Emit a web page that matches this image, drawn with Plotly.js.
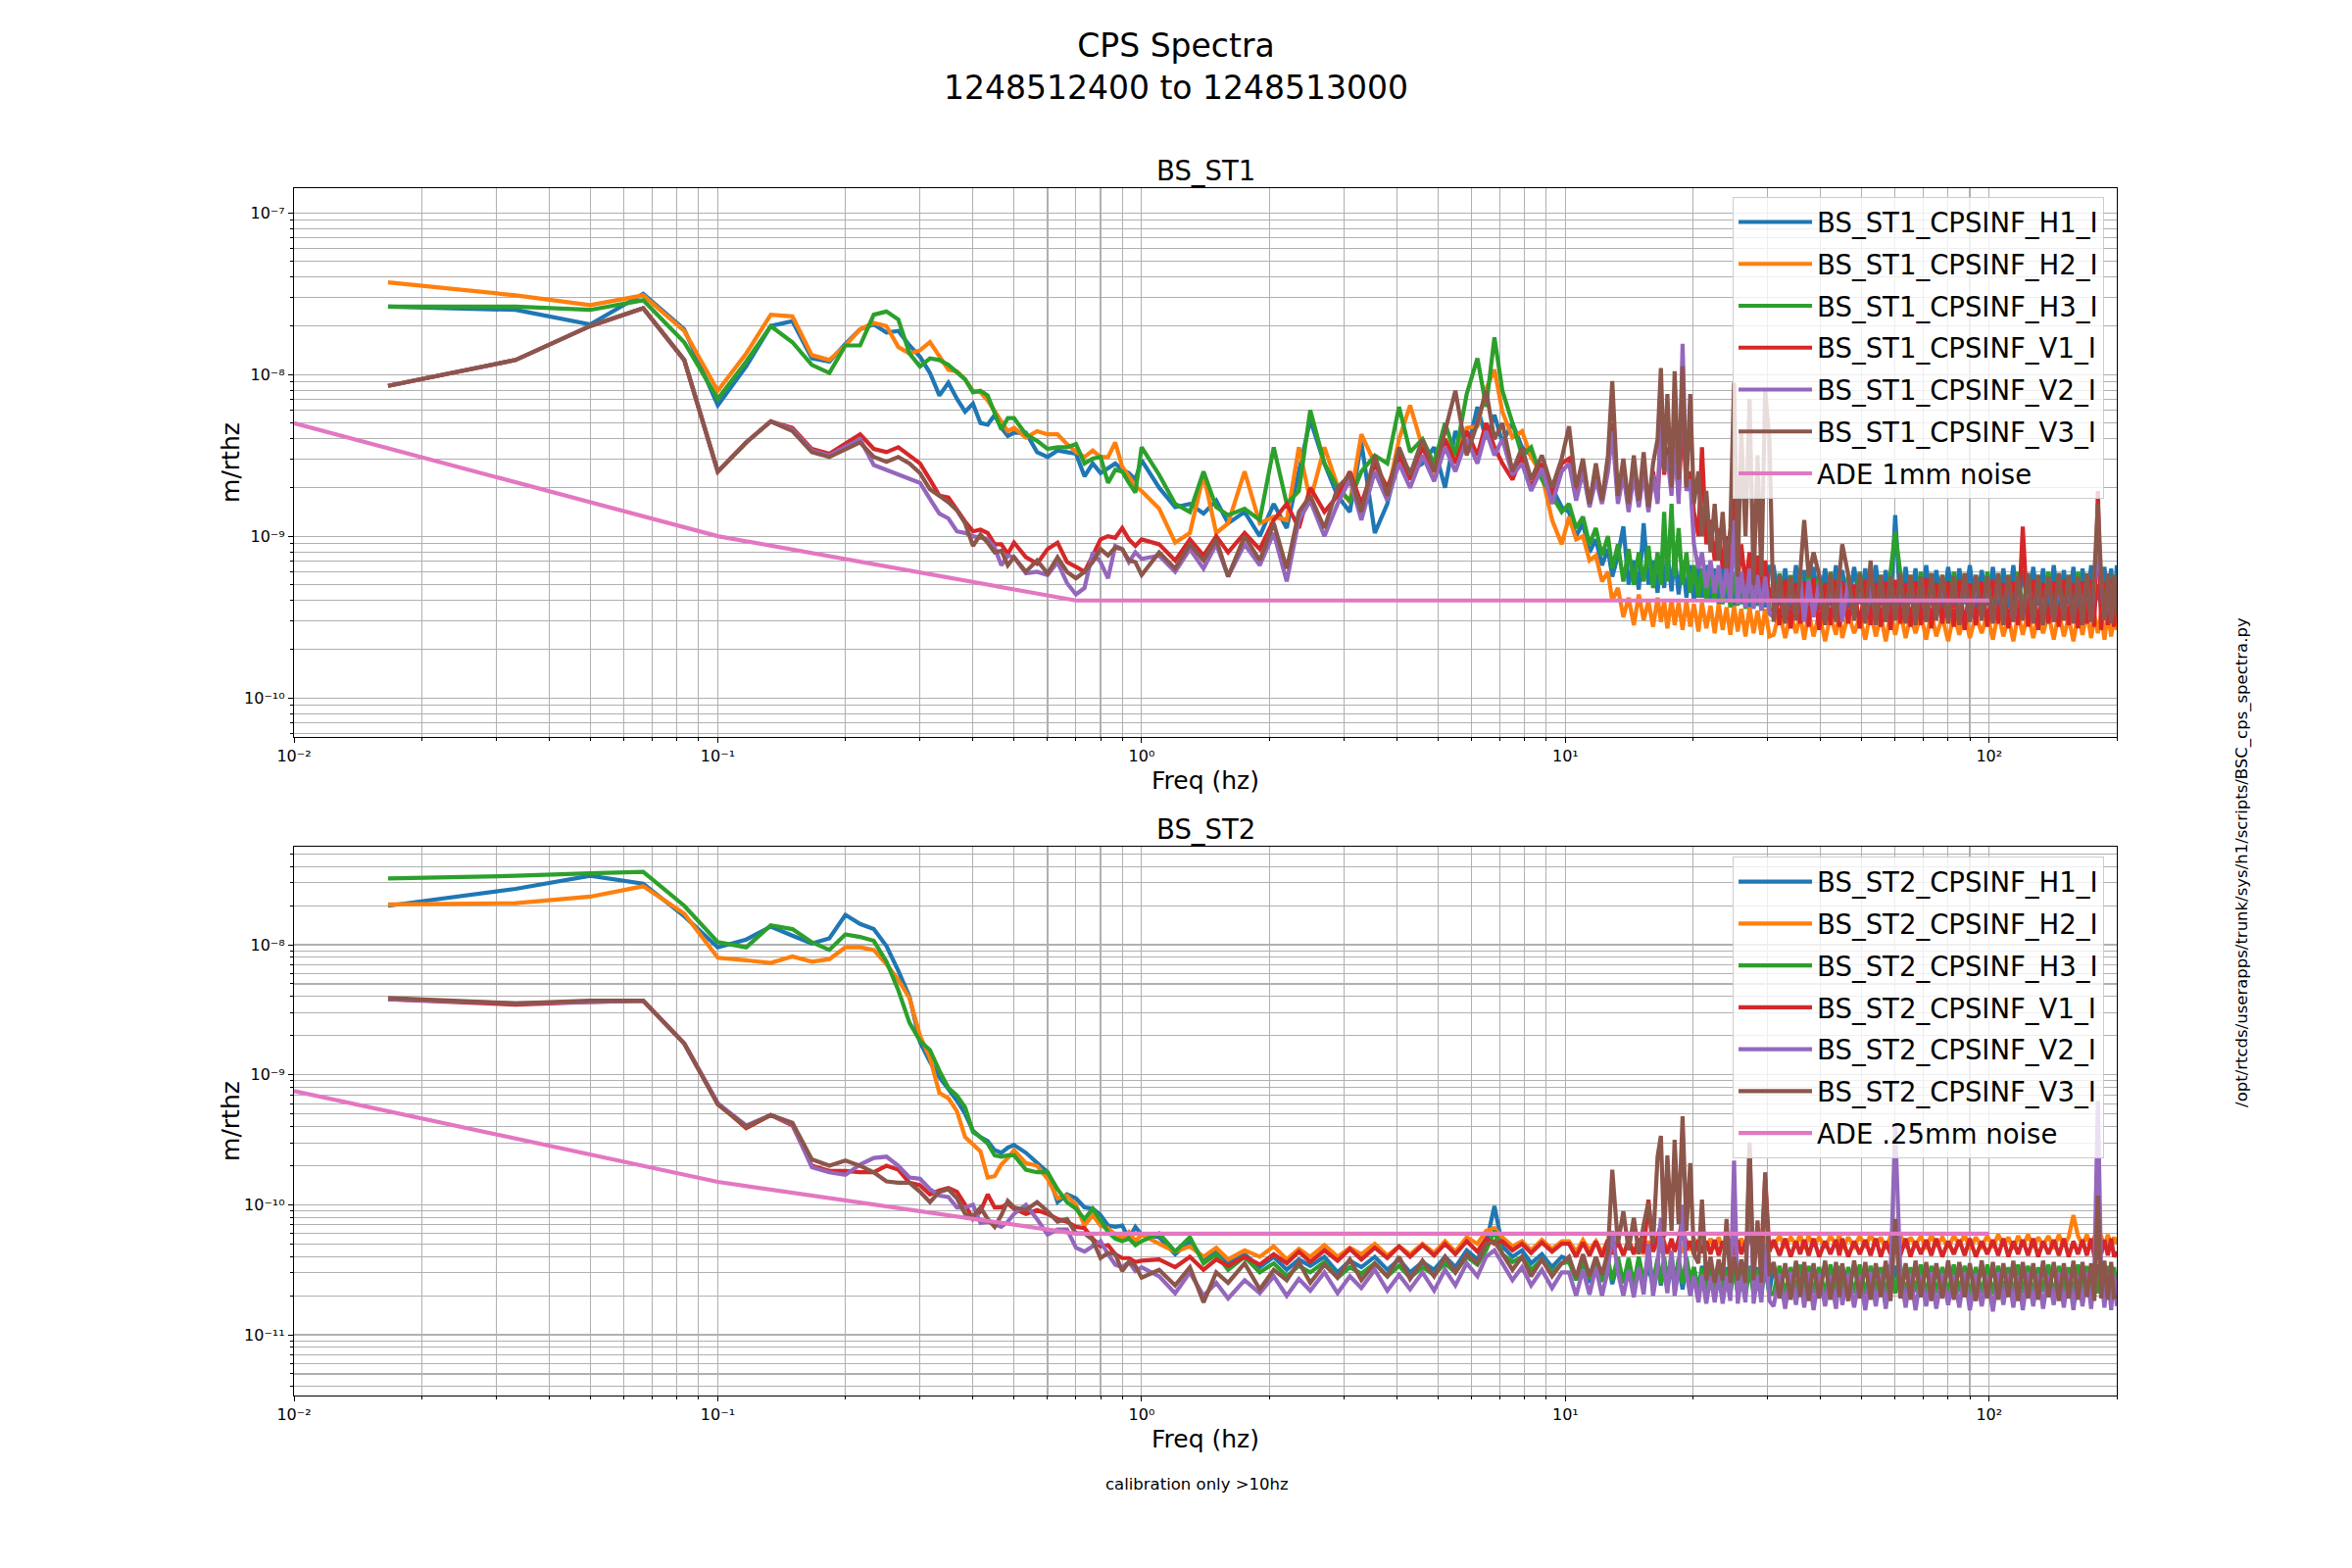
<!DOCTYPE html>
<html>
<head>
<meta charset="utf-8">
<script src="https://cdn.plot.ly/plotly-3.0.1.min.js"></script>
<style>html,body{margin:0;padding:0;background:#fff;}#chart{width:2400px;height:1600px;}</style>
</head>
<body>
<div id="chart"></div>
<script>
// ---------- DATA (amplitudes given as log10(m/rthz)) ----------
// frequency grid, part A1: 1/60 Hz bins up to 0.5 Hz, then coarser up to 9.8 Hz
const freqA1 = [
  0.01667, 0.03333, 0.05, 0.06667, 0.08333, 0.1, 0.11667, 0.13333, 0.15, 0.16667, 0.18333,
  0.2, 0.21667, 0.23333, 0.25, 0.26667, 0.28333, 0.3, 0.31667, 0.33333, 0.35, 0.36667, 0.38333, 0.4, 0.41667, 0.43333, 0.45, 0.46667, 0.48333, 0.5,
  0.53333, 0.56667, 0.6, 0.63333, 0.66667, 0.7, 0.73333, 0.76667, 0.8, 0.83333, 0.86667, 0.9, 0.93333, 0.96667, 1.0,
  1.1, 1.2, 1.3, 1.4, 1.5, 1.6, 1.75, 1.9, 2.05, 2.2, 2.35, 2.5, 2.7, 2.9, 3.1, 3.3, 3.55, 3.8, 4.05, 4.3,
  4.6, 4.9, 5.2, 5.5, 5.85, 6.2, 6.5, 6.8, 7.1, 7.5, 7.9, 8.3, 8.8, 9.3, 9.8
];
// part A2: 10 Hz to 30 Hz
const freqA2 = [
  10.2, 10.6, 11.0, 11.4, 11.8, 12.2, 12.6, 12.9, 13.3, 13.7,
  14.1, 14.5, 14.9, 15.3, 15.7, 16.1, 16.5, 16.8, 17.1, 17.4,
  17.8, 18.1, 18.5, 18.9, 19.3, 19.7, 20.1, 20.6, 21.0, 21.5,
  22.0, 22.5, 23.0, 23.5, 24.0, 24.5, 25.0, 25.5, 26.0, 26.6,
  27.2, 27.8, 28.4, 29.0, 29.6, 30.3
];
// part B: 31 Hz to 200 Hz
const freqB = [
  31, 32, 33, 34, 35, 35.8, 36.6, 37.5, 38.5, 39.7,
  41, 42.2, 43.5, 44.3, 45, 46.5, 48, 49.5, 51, 52.5,
  54, 55.5, 57, 58.5, 60, 61.7, 63.5, 65.2, 67, 69,
  71, 73, 75, 77.5, 80, 82.5, 85, 87.5, 90, 93,
  96, 99, 102, 105, 108, 111, 114, 117, 120, 123.5,
  127, 130.5, 134, 138, 142, 146, 150, 154, 158, 162,
  166, 170, 174, 177, 180.5, 183.7, 187, 190.5, 194, 197,
  200
];

// ---- BS_ST1 (top panel) ----
const st1_H1_a1 = [
  -7.58, -7.60, -7.69, -7.50, -7.72, -8.19, -7.95, -7.70, -7.67, -7.90, -7.92,
  -7.81, -7.72, -7.69, -7.74, -7.73, -7.82, -7.89, -7.99, -8.13, -8.05, -8.15, -8.23, -8.18, -8.30, -8.31, -8.25, -8.33, -8.38, -8.36,
  -8.36, -8.48, -8.51, -8.47, -8.48, -8.49, -8.63, -8.55, -8.61, -8.58, -8.55, -8.59, -8.61, -8.65, -8.53,
  -8.70, -8.82, -8.80, -8.86, -8.78, -8.92, -8.85, -9.00, -8.80, -8.95, -8.60, -8.28, -8.55, -8.75, -8.85, -8.42, -8.98, -8.80, -8.50, -8.60,
  -8.55, -8.45, -8.70, -8.35, -8.48, -8.20, -8.40, -8.25, -8.42, -8.30, -8.45, -8.50, -8.62, -8.70, -8.82
];
const st1_H1_a2 = [
  -8.85, -9.00, -8.92, -9.10, -9.02, -9.18, -9.08, -9.25, -9.12, -8.94,
  -9.30, -9.15, -9.33, -8.92, -9.30, -9.15, -9.35, -9.12, -9.32, -9.10,
  -9.34, -9.12, -9.36, -9.15, -9.38, -9.18, -9.40, -9.17, -9.38, -9.18,
  -9.40, -9.20, -9.42, -9.19, -9.41, -9.20, -9.43, -9.19, -9.42, -9.20,
  -9.44, -9.19, -9.43, -9.20, -9.44, -9.19
];
const st1_H1_b = [
  -9.19, -9.43, -9.20, -9.45, -9.18, -9.44, -9.21, -9.42, -9.19, -9.46,
  -9.20, -9.43, -9.18, -9.45, -9.21, -9.44, -9.19, -9.42, -9.20, -9.46,
  -9.18, -9.43, -9.21, -9.45, -8.87, -9.44, -9.19, -9.42, -9.20, -9.46,
  -9.18, -9.43, -9.21, -9.45, -9.19, -9.44, -9.20, -9.42, -9.18, -9.46,
  -9.21, -9.43, -9.19, -9.45, -9.20, -9.44, -9.18, -9.42, -9.21, -9.46,
  -9.19, -9.43, -9.20, -9.45, -9.18, -9.44, -9.21, -9.42, -9.19, -9.46,
  -9.20, -9.43, -9.18, -9.45, -9.30, -9.44, -9.19, -9.42, -9.20, -9.46,
  -9.18
];
const st1_H2_a1 = [
  -7.43, -7.51, -7.57, -7.51, -7.73, -8.10, -7.87, -7.63, -7.64, -7.88, -7.91,
  -7.82, -7.72, -7.68, -7.70, -7.83, -7.87, -7.85, -7.80, -7.89, -7.97, -7.98, -8.03, -8.10, -8.11, -8.16, -8.23, -8.29, -8.35, -8.33,
  -8.39, -8.35, -8.37, -8.37, -8.43, -8.48, -8.51, -8.47, -8.51, -8.51, -8.42, -8.57, -8.63, -8.69, -8.72,
  -8.83, -9.04, -8.98, -8.62, -8.98, -8.92, -8.60, -8.92, -8.88, -8.90, -8.45, -8.78, -8.45, -8.69, -8.79, -8.37, -8.55, -8.75, -8.40, -8.19,
  -8.45, -8.62, -8.40, -8.51, -8.33, -8.32, -8.09, -7.97, -8.23, -8.39, -8.35, -8.51, -8.62, -8.90, -9.05
];
const st1_H2_a2 = [
  -8.88, -9.02, -9.00, -9.15, -9.12, -9.28, -9.22, -9.40, -9.32, -9.50,
  -9.38, -9.55, -9.36, -9.52, -9.40, -9.56, -9.38, -9.53, -9.40, -9.57,
  -9.39, -9.55, -9.41, -9.58, -9.40, -9.56, -9.42, -9.59, -9.41, -9.57,
  -9.43, -9.60, -9.42, -9.58, -9.44, -9.61, -9.43, -9.59, -9.45, -9.62,
  -9.44, -9.60, -9.46, -9.61, -9.45, -9.62
];
const st1_H2_b = [
  -9.61, -9.47, -9.63, -9.48, -9.60, -9.49, -9.64, -9.47, -9.62, -9.48,
  -9.65, -9.49, -9.61, -9.47, -9.63, -9.48, -9.60, -9.50, -9.64, -9.47,
  -9.62, -9.49, -9.65, -9.48, -9.61, -9.47, -9.63, -9.49, -9.60, -9.48,
  -9.64, -9.47, -9.62, -9.50, -9.65, -9.48, -9.61, -9.47, -9.63, -9.49,
  -9.60, -9.48, -9.64, -9.47, -9.62, -9.50, -9.65, -9.48, -9.61, -9.47,
  -9.63, -9.49, -9.60, -9.48, -9.64, -9.47, -9.62, -9.50, -9.65, -9.48,
  -9.61, -9.47, -9.63, -9.49, -9.60, -9.48, -9.64, -9.47, -9.62, -9.50,
  -9.58
];
const st1_H3_a1 = [
  -7.58, -7.58, -7.60, -7.54, -7.80, -8.15, -7.92, -7.70, -7.80, -7.94, -7.99,
  -7.82, -7.82, -7.63, -7.61, -7.66, -7.87, -7.95, -7.90, -7.91, -7.94, -7.99, -8.03, -8.11, -8.10, -8.13, -8.23, -8.34, -8.27, -8.27,
  -8.37, -8.41, -8.46, -8.45, -8.45, -8.43, -8.55, -8.52, -8.51, -8.67, -8.59, -8.60, -8.67, -8.73, -8.45,
  -8.62, -8.80, -8.85, -8.60, -8.82, -8.87, -8.83, -8.90, -8.45, -8.80, -8.72, -8.22, -8.55, -8.70, -8.78, -8.60, -8.50, -8.55, -8.20, -8.48,
  -8.40, -8.55, -8.30, -8.50, -8.12, -7.90, -8.20, -7.77, -8.10, -8.30, -8.50, -8.45, -8.65, -8.75, -8.85
];
const st1_H3_a2 = [
  -8.80, -8.95, -8.88, -9.05, -8.95, -9.12, -9.00, -9.20, -9.05, -9.28,
  -9.08, -9.30, -9.10, -9.28, -9.06, -9.32, -9.10, -9.30, -8.85, -9.28,
  -8.80, -9.25, -8.95, -9.30, -9.10, -9.35, -9.18, -9.38, -9.20, -9.40,
  -9.21, -9.40, -9.22, -9.42, -9.23, -9.44, -9.22, -9.43, -9.24, -9.45,
  -9.23, -9.44, -9.24, -9.46, -9.23, -9.45
];
const st1_H3_b = [
  -9.46, -9.23, -9.47, -9.24, -9.45, -9.22, -9.48, -9.23, -9.46, -9.24,
  -9.47, -9.22, -9.45, -9.23, -9.48, -9.24, -9.46, -9.22, -9.47, -9.23,
  -9.45, -9.24, -9.48, -9.22, -8.97, -9.23, -9.47, -9.24, -9.45, -9.22,
  -9.48, -9.23, -9.46, -9.24, -9.47, -9.22, -9.45, -9.23, -9.48, -9.24,
  -9.46, -9.22, -9.47, -9.23, -9.45, -9.24, -9.48, -9.22, -9.46, -9.23,
  -9.47, -9.24, -9.45, -9.22, -9.48, -9.23, -9.46, -9.24, -9.47, -9.22,
  -9.45, -9.23, -9.48, -9.24, -9.10, -9.22, -9.47, -9.23, -9.45, -9.24,
  -9.40
];
const st1_V1_a1 = [
  -8.07, -7.91, -7.70, -7.59, -7.91, -8.60, -8.42, -8.29, -8.33, -8.46, -8.49,
  -8.43, -8.37, -8.46, -8.48, -8.45, -8.50, -8.55, -8.65, -8.75, -8.76, -8.84, -8.91, -8.97, -8.96, -8.98, -9.05, -9.05, -9.11, -9.04,
  -9.13, -9.17, -9.08, -9.04, -9.16, -9.19, -9.22, -9.12, -9.02, -9.00, -9.01, -8.95, -9.02, -9.06, -9.02,
  -9.05, -9.15, -9.02, -9.12, -9.00, -9.10, -8.98, -9.08, -8.90, -8.80, -8.95, -8.70, -8.85, -8.75, -8.60, -8.80, -8.55, -8.70, -8.50, -8.65,
  -8.45, -8.60, -8.40, -8.55, -8.35, -8.50, -8.30, -8.45, -8.55, -8.65, -8.50, -8.70, -8.55, -8.75, -8.55
];
const st1_V1_a2 = [
  -8.52, -8.75, -8.58, -8.80, -8.62, -8.78, -8.55, -8.30, -8.75, -8.58,
  -8.82, -8.60, -8.80, -8.58, -8.82, -8.60, -8.78, -8.35, -8.62, -8.45,
  -8.70, -8.40, -8.75, -8.25, -8.70, -8.60, -8.85, -9.00, -8.45, -9.05,
  -8.90, -9.15, -8.95, -9.20, -9.00, -9.25, -8.75, -9.28, -9.05, -9.30,
  -9.10, -9.35, -9.12, -9.38, -9.15, -9.40
];
const st1_V1_b = [
  -9.28, -9.55, -9.27, -9.57, -9.29, -9.54, -9.28, -9.56, -9.26, -9.58,
  -9.29, -9.55, -9.27, -9.56, -9.28, -9.54, -9.30, -9.57, -9.27, -9.55,
  -9.29, -9.56, -9.28, -9.58, -9.27, -9.54, -9.29, -9.56, -9.28, -9.55,
  -9.26, -9.57, -9.29, -9.54, -9.28, -9.56, -9.27, -9.58, -9.29, -9.55,
  -9.28, -9.56, -9.27, -9.54, -9.29, -9.57, -9.28, -9.55, -8.94, -9.56,
  -9.27, -9.58, -9.29, -9.54, -9.28, -9.56, -9.27, -9.55, -9.29, -9.57,
  -9.28, -9.54, -9.27, -9.56, -8.72, -9.58, -9.28, -9.55, -9.27, -9.56,
  -9.29
];
const st1_V2_a1 = [
  -8.07, -7.91, -7.70, -7.59, -7.91, -8.60, -8.42, -8.29, -8.34, -8.47, -8.50,
  -8.45, -8.40, -8.56, -8.59, -8.62, -8.64, -8.67, -8.77, -8.86, -8.89, -8.97, -8.98, -9.00, -9.01, -9.02, -9.07, -9.18, -9.12, -9.13,
  -9.23, -9.22, -9.24, -9.16, -9.29, -9.36, -9.32, -9.10, -9.16, -9.26, -9.06, -9.08, -9.16, -9.10, -9.14,
  -9.12, -9.22, -9.08, -9.20, -9.05, -9.25, -9.05, -9.18, -8.98, -9.28, -8.90, -8.78, -9.00, -8.80, -8.65, -8.90, -8.60, -8.78, -8.55, -8.70,
  -8.50, -8.66, -8.45, -8.60, -8.40, -8.55, -8.35, -8.50, -8.40, -8.62, -8.55, -8.72, -8.58, -8.80, -8.60
];
const st1_V2_a2 = [
  -8.55, -8.78, -8.60, -8.82, -8.65, -8.80, -8.60, -8.35, -8.80, -8.62,
  -8.85, -8.62, -8.82, -8.60, -8.85, -8.62, -8.80, -8.25, -8.60, -8.50,
  -8.75, -8.35, -8.80, -7.81, -8.72, -8.65, -9.05, -9.20, -9.10, -9.32,
  -9.15, -9.35, -9.18, -9.38, -9.20, -9.40, -8.90, -9.42, -9.22, -9.44,
  -9.20, -9.45, -9.24, -9.46, -9.25, -9.48
];
const st1_V2_b = [
  -9.50, -9.27, -9.52, -9.28, -9.51, -9.26, -9.53, -9.27, -9.50, -9.28,
  -9.52, -9.27, -9.51, -9.26, -9.53, -9.28, -9.50, -9.27, -9.52, -9.28,
  -9.51, -9.26, -9.53, -9.27, -9.50, -9.28, -9.52, -9.27, -9.51, -9.26,
  -9.53, -9.28, -9.50, -9.27, -9.52, -9.28, -9.51, -9.26, -9.53, -9.27,
  -9.50, -9.28, -9.52, -9.27, -9.51, -9.26, -9.53, -9.28, -9.50, -9.27,
  -9.52, -9.28, -9.51, -9.26, -9.53, -9.27, -9.50, -9.28, -9.52, -9.27,
  -9.51, -9.26, -9.53, -9.28, -9.10, -9.27, -9.52, -9.28, -9.51, -9.26,
  -9.30
];
const st1_V3_a1 = [
  -8.07, -7.91, -7.70, -7.59, -7.91, -8.60, -8.42, -8.29, -8.35, -8.48, -8.51,
  -8.46, -8.42, -8.51, -8.54, -8.51, -8.55, -8.61, -8.71, -8.75, -8.79, -8.84, -8.92, -9.06, -8.99, -9.04, -9.10, -9.09, -9.18, -9.13,
  -9.22, -9.15, -9.23, -9.13, -9.22, -9.26, -9.22, -9.16, -9.08, -9.12, -9.07, -9.08, -9.15, -9.16, -9.24,
  -9.10, -9.20, -9.05, -9.15, -9.02, -9.25, -9.00, -9.15, -8.92, -9.20, -8.85, -8.75, -8.95, -8.70, -8.62, -8.85, -8.50, -8.75, -8.45, -8.62,
  -8.40, -8.60, -8.35, -8.10, -8.50, -8.30, -8.10, -8.40, -8.30, -8.60, -8.45, -8.65, -8.50, -8.70, -8.52
];
const st1_V3_a2 = [
  -8.32, -8.70, -8.52, -8.80, -8.55, -8.78, -8.50, -8.04, -8.75, -8.52,
  -8.80, -8.50, -8.78, -8.48, -8.82, -8.55, -8.40, -7.96, -8.60, -8.12,
  -8.70, -7.98, -8.65, -7.95, -8.70, -8.12, -8.80, -8.60, -9.00, -8.72,
  -9.10, -8.80, -9.15, -8.85, -9.20, -8.95, -8.05, -9.25, -8.35, -9.00,
  -8.15, -9.30, -8.50, -9.25, -8.10, -8.40
];
const st1_V3_b = [
  -9.53, -9.24, -9.54, -9.25, -9.52, -9.23, -8.90, -9.25, -9.10, -9.24,
  -9.55, -9.23, -9.53, -9.25, -9.05, -9.24, -9.52, -9.23, -9.54, -9.15,
  -9.55, -9.24, -9.53, -9.25, -9.52, -9.23, -9.54, -9.24, -9.55, -9.25,
  -9.53, -9.23, -9.52, -9.24, -9.54, -9.25, -9.55, -9.23, -9.53, -9.24,
  -9.52, -9.25, -9.54, -9.23, -9.55, -9.24, -9.53, -9.25, -9.52, -9.23,
  -9.54, -9.24, -9.55, -9.25, -9.53, -9.23, -9.52, -9.24, -9.54, -9.25,
  -9.55, -9.23, -9.53, -9.24, -8.80, -9.25, -9.52, -9.23, -9.54, -9.24,
  -9.50
];

// ---- BS_ST2 (bottom panel) ----
const st2_H1_a1 = [
  -7.70, -7.57, -7.47, -7.53, -7.78, -8.02, -7.96, -7.86, -7.93, -7.99, -7.95,
  -7.77, -7.84, -7.88, -8.01, -8.20, -8.40, -8.75, -8.90, -9.02, -9.11, -9.20, -9.30, -9.43, -9.48, -9.51, -9.58, -9.60, -9.56, -9.54,
  -9.60, -9.68, -9.75, -9.98, -9.92, -9.95, -10.02, -10.03, -10.08, -10.16, -10.17, -10.16, -10.26, -10.17, -10.23,
  -10.25, -10.38, -10.28, -10.42, -10.35, -10.45, -10.38, -10.48, -10.40, -10.50, -10.42, -10.47, -10.40, -10.52, -10.43, -10.48, -10.40, -10.50, -10.42, -10.52,
  -10.44, -10.50, -10.40, -10.48, -10.35, -10.42, -10.30, -10.01, -10.32, -10.40, -10.35, -10.45, -10.38, -10.48, -10.40
];
const st2_H1_a2 = [
  -10.42, -10.58, -10.44, -10.60, -10.43, -10.59, -10.45, -10.61, -10.44, -10.60,
  -10.46, -10.62, -10.45, -10.61, -10.47, -10.63, -10.46, -10.62, -10.48, -10.64,
  -10.47, -10.63, -10.48, -10.65, -10.47, -10.64, -10.48, -10.66, -10.47, -10.65,
  -10.48, -10.66, -10.47, -10.67, -10.48, -10.66, -10.49, -10.67, -10.48, -10.66,
  -10.47, -10.67, -10.48, -10.66, -10.47, -10.67
];
const st2_H1_b = [
  -10.47, -10.66, -10.48, -10.67, -10.46, -10.65, -10.47, -10.68, -10.48, -10.66,
  -10.46, -10.67, -10.47, -10.65, -10.48, -10.66, -10.46, -10.68, -10.47, -10.67,
  -10.48, -10.65, -10.46, -10.66, -10.47, -10.68, -10.48, -10.67, -10.46, -10.65,
  -10.47, -10.66, -10.48, -10.68, -10.46, -10.67, -10.47, -10.65, -10.48, -10.66,
  -10.46, -10.68, -10.47, -10.67, -10.48, -10.65, -10.46, -10.66, -10.47, -10.68,
  -10.48, -10.67, -10.46, -10.65, -10.47, -10.66, -10.48, -10.68, -10.46, -10.67,
  -10.47, -10.65, -10.48, -10.66, -10.46, -10.68, -10.47, -10.67, -10.48, -10.65,
  -10.66
];
const st2_H2_a1 = [
  -7.69, -7.68, -7.63, -7.55, -7.76, -8.10, -8.12, -8.14, -8.09, -8.13, -8.11,
  -8.02, -8.02, -8.04, -8.15, -8.27, -8.41, -8.70, -8.87, -9.14, -9.18, -9.28, -9.48, -9.54, -9.59, -9.79, -9.78, -9.69, -9.64, -9.58,
  -9.68, -9.70, -9.80, -9.95, -9.93, -10.00, -10.16, -10.08, -10.16, -10.18, -10.23, -10.26, -10.21, -10.28, -10.23,
  -10.30, -10.36, -10.32, -10.40, -10.33, -10.42, -10.35, -10.40, -10.32, -10.42, -10.34, -10.40, -10.31, -10.40, -10.33, -10.38, -10.30, -10.39, -10.32, -10.38,
  -10.30, -10.37, -10.28, -10.36, -10.25, -10.30, -10.20, -10.18, -10.25, -10.32, -10.28, -10.35, -10.27, -10.34, -10.28
];
const st2_H2_a2 = [
  -10.28, -10.36, -10.27, -10.35, -10.28, -10.37, -10.27, -10.36, -10.29, -10.38,
  -10.28, -10.37, -10.29, -10.38, -10.28, -10.36, -10.29, -10.37, -10.28, -10.38,
  -10.27, -10.36, -10.28, -10.37, -10.27, -10.35, -10.26, -10.34, -10.27, -10.35,
  -10.26, -10.34, -10.25, -10.33, -10.26, -10.34, -10.25, -10.33, -10.26, -10.34,
  -10.25, -10.33, -10.24, -10.33, -10.25, -10.32
];
const st2_H2_b = [
  -10.32, -10.24, -10.33, -10.25, -10.31, -10.23, -10.34, -10.24, -10.32, -10.25,
  -10.33, -10.24, -10.31, -10.23, -10.34, -10.25, -10.32, -10.24, -10.33, -10.23,
  -10.31, -10.25, -10.34, -10.24, -10.32, -10.23, -10.33, -10.25, -10.31, -10.24,
  -10.34, -10.23, -10.32, -10.25, -10.33, -10.24, -10.31, -10.23, -10.34, -10.25,
  -10.32, -10.24, -10.33, -10.23, -10.31, -10.25, -10.34, -10.24, -10.32, -10.23,
  -10.33, -10.25, -10.31, -10.24, -10.34, -10.23, -10.32, -10.25, -10.08, -10.24,
  -10.31, -10.23, -10.34, -10.25, -10.22, -10.24, -10.33, -10.23, -10.31, -10.25,
  -10.30
];
const st2_H3_a1 = [
  -7.49, -7.47, -7.45, -7.44, -7.70, -7.98, -8.02, -7.85, -7.88, -7.98, -8.04,
  -7.92, -7.94, -7.97, -8.13, -8.35, -8.60, -8.74, -8.81, -8.97, -9.10, -9.16, -9.25, -9.44, -9.48, -9.53, -9.62, -9.63, -9.62, -9.62,
  -9.73, -9.75, -9.75, -9.88, -9.98, -10.03, -10.11, -10.03, -10.12, -10.21, -10.26, -10.28, -10.26, -10.31, -10.28,
  -10.22, -10.36, -10.25, -10.45, -10.38, -10.50, -10.40, -10.52, -10.45, -10.55, -10.47, -10.52, -10.44, -10.56, -10.48, -10.53, -10.45, -10.55, -10.47, -10.56,
  -10.48, -10.54, -10.45, -10.52, -10.40, -10.46, -10.35, -10.20, -10.38, -10.44, -10.40, -10.50, -10.42, -10.52, -10.45
];
const st2_H3_a2 = [
  -10.44, -10.58, -10.43, -10.57, -10.44, -10.59, -10.42, -10.58, -10.40, -10.60,
  -10.41, -10.61, -10.40, -10.59, -10.39, -10.60, -10.41, -10.61, -10.40, -10.59,
  -10.39, -10.60, -10.41, -10.61, -10.40, -10.58, -10.48, -10.67, -10.49, -10.68,
  -10.48, -10.69, -10.49, -10.68, -10.50, -10.69, -10.48, -10.68, -10.49, -10.70,
  -10.48, -10.69, -10.50, -10.68, -10.49, -10.69
];
const st2_H3_b = [
  -10.68, -10.47, -10.69, -10.48, -10.67, -10.46, -10.70, -10.47, -10.68, -10.48,
  -10.69, -10.46, -10.67, -10.47, -10.70, -10.48, -10.68, -10.46, -10.69, -10.47,
  -10.67, -10.48, -10.70, -10.46, -10.68, -10.47, -10.69, -10.48, -10.67, -10.46,
  -10.70, -10.47, -10.68, -10.48, -10.69, -10.46, -10.67, -10.47, -10.70, -10.48,
  -10.68, -10.46, -10.69, -10.47, -10.67, -10.48, -10.70, -10.46, -10.68, -10.47,
  -10.69, -10.48, -10.67, -10.46, -10.70, -10.47, -10.68, -10.48, -10.69, -10.46,
  -10.67, -10.47, -10.70, -10.48, -10.68, -10.46, -10.69, -10.47, -10.67, -10.48,
  -10.68
];
const st2_V1_a1 = [
  -8.42, -8.46, -8.44, -8.43, -8.76, -9.22, -9.41, -9.31, -9.39, -9.70, -9.74,
  -9.74, -9.75, -9.75, -9.70, -9.73, -9.83, -9.85, -9.92, -9.89, -9.87, -9.90, -10.00, -10.11, -10.05, -9.92, -10.02, -10.02, -9.99, -10.03,
  -10.07, -10.04, -10.07, -10.11, -10.13, -10.17, -10.18, -10.26, -10.32, -10.31, -10.38, -10.41, -10.41, -10.44, -10.43,
  -10.42, -10.48, -10.40, -10.50, -10.42, -10.47, -10.40, -10.46, -10.38, -10.45, -10.36, -10.44, -10.35, -10.43, -10.34, -10.42, -10.33, -10.41, -10.32, -10.40,
  -10.31, -10.39, -10.30, -10.38, -10.28, -10.36, -10.26, -10.30, -10.28, -10.35, -10.30, -10.37, -10.29, -10.36, -10.30
];
const st2_V1_a2 = [
  -10.30, -10.40, -10.29, -10.39, -10.28, -10.40, -10.27, -10.38, -10.28, -10.39,
  -10.27, -10.38, -10.26, -10.37, -9.96, -10.36, -10.25, -10.15, -10.30, -10.37,
  -10.26, -10.36, -10.27, -10.10, -10.35, -10.28, -10.38, -10.27, -10.37, -10.28,
  -10.38, -10.27, -10.39, -10.28, -10.38, -10.26, -10.39, -10.27, -10.38, -10.28,
  -10.20, -10.38, -10.30, -10.37, -9.79, -10.36
];
const st2_V1_b = [
  -10.27, -10.39, -10.26, -10.40, -10.28, -10.38, -10.27, -10.39, -10.26, -10.40,
  -10.28, -10.38, -10.27, -10.39, -10.26, -10.40, -10.28, -10.38, -10.27, -10.39,
  -10.26, -10.40, -10.28, -10.38, -10.27, -10.39, -10.26, -10.40, -10.28, -10.38,
  -10.27, -10.39, -10.26, -10.40, -10.28, -10.38, -10.27, -10.39, -10.26, -10.40,
  -10.28, -10.38, -10.27, -10.39, -10.26, -10.40, -10.28, -10.38, -10.27, -10.39,
  -10.26, -10.40, -10.28, -10.38, -10.27, -10.39, -10.26, -10.40, -10.28, -10.38,
  -10.27, -10.39, -10.26, -10.40, -10.28, -10.38, -10.27, -10.39, -10.26, -10.40,
  -10.36
];
const st2_V2_a1 = [
  -8.42, -8.45, -8.44, -8.43, -8.76, -9.22, -9.39, -9.31, -9.38, -9.71, -9.75,
  -9.77, -9.69, -9.64, -9.63, -9.70, -9.79, -9.80, -9.88, -9.93, -9.94, -10.02, -10.02, -10.00, -10.14, -10.13, -10.15, -10.17, -10.13, -10.07,
  -10.00, -10.11, -10.23, -10.19, -10.19, -10.33, -10.36, -10.32, -10.28, -10.38, -10.46, -10.48, -10.44, -10.51, -10.48,
  -10.55, -10.68, -10.52, -10.70, -10.60, -10.72, -10.58, -10.68, -10.55, -10.70, -10.57, -10.66, -10.52, -10.68, -10.55, -10.64, -10.50, -10.66, -10.54, -10.65,
  -10.52, -10.66, -10.50, -10.62, -10.45, -10.55, -10.40, -10.35, -10.45, -10.58, -10.48, -10.62, -10.50, -10.64, -10.52
];
const st2_V2_a2 = [
  -10.52, -10.70, -10.50, -10.69, -10.48, -10.70, -10.50, -10.20, -10.52, -10.70,
  -10.50, -10.71, -10.48, -10.69, -10.30, -10.70, -10.48, -10.10, -10.50, -10.68,
  -10.35, -10.70, -10.50, -10.00, -10.52, -10.70, -10.55, -10.75, -10.54, -10.76,
  -10.55, -10.75, -10.54, -10.76, -10.55, -10.74, -9.66, -10.76, -10.55, -10.75,
  -9.55, -10.76, -10.54, -10.75, -10.30, -10.74
];
const st2_V2_b = [
  -10.78, -10.53, -10.80, -10.52, -10.77, -10.54, -10.79, -10.52, -10.81, -10.53,
  -10.78, -10.54, -10.80, -10.52, -10.77, -10.53, -10.79, -10.54, -10.81, -10.52,
  -10.78, -10.53, -10.80, -10.54, -9.40, -10.52, -10.79, -10.53, -10.81, -10.54,
  -10.78, -10.52, -10.80, -10.53, -10.77, -10.54, -10.79, -10.52, -10.81, -10.53,
  -10.78, -10.54, -10.82, -10.52, -10.77, -10.53, -10.79, -10.54, -10.81, -10.52,
  -10.78, -10.53, -10.80, -10.54, -10.77, -10.52, -10.79, -10.53, -10.81, -10.54,
  -10.78, -10.52, -10.80, -10.53, -9.20, -10.54, -10.79, -10.52, -10.81, -10.53,
  -10.78
];
const st2_V3_a1 = [
  -8.41, -8.45, -8.43, -8.43, -8.76, -9.23, -9.40, -9.31, -9.37, -9.65, -9.70,
  -9.66, -9.70, -9.75, -9.82, -9.83, -9.83, -9.90, -9.98, -9.90, -9.88, -9.95, -10.07, -10.09, -10.02, -10.11, -10.17, -10.08, -9.97, -10.02,
  -10.04, -9.98, -10.05, -10.13, -10.11, -10.22, -10.22, -10.27, -10.41, -10.37, -10.38, -10.51, -10.44, -10.47, -10.56,
  -10.50, -10.62, -10.48, -10.75, -10.52, -10.60, -10.45, -10.65, -10.50, -10.58, -10.44, -10.60, -10.46, -10.56, -10.42, -10.58, -10.45, -10.55, -10.40, -10.57,
  -10.43, -10.55, -10.40, -10.52, -10.38, -10.45, -10.30, -10.28, -10.38, -10.50, -10.40, -10.55, -10.42, -10.55, -10.45
];
const st2_V3_a2 = [
  -10.40, -10.56, -10.38, -10.55, -10.40, -10.54, -10.36, -9.73, -10.30, -10.05,
  -10.35, -10.10, -10.38, -10.15, -9.98, -10.30, -9.63, -9.47, -10.25, -9.62,
  -10.20, -9.50, -10.15, -9.32, -10.20, -9.68, -10.38, -10.45, -9.96, -10.58,
  -10.40, -10.60, -10.42, -10.58, -10.11, -10.60, -10.40, -10.58, -10.42, -10.60,
  -9.52, -10.58, -10.12, -10.60, -9.75, -10.55
];
const st2_V3_b = [
  -10.44, -10.72, -10.45, -10.73, -10.43, -10.71, -10.44, -10.74, -10.45, -10.72,
  -10.43, -10.73, -10.44, -10.71, -10.45, -10.74, -10.43, -10.72, -10.44, -10.73,
  -10.45, -10.71, -10.43, -10.74, -10.11, -10.72, -10.45, -10.73, -10.43, -10.71,
  -10.44, -10.74, -10.45, -10.72, -10.43, -10.73, -10.44, -10.71, -10.45, -10.74,
  -10.43, -10.72, -10.44, -10.73, -10.45, -10.71, -10.43, -10.74, -10.44, -10.72,
  -10.45, -10.73, -10.43, -10.71, -10.44, -10.74, -10.45, -10.72, -10.43, -10.73,
  -10.44, -10.71, -10.45, -10.74, -9.93, -10.72, -10.43, -10.73, -10.44, -10.71,
  -10.70
];

// ADE noise reference curves
const adeFreq = [0.01, 0.1, 0.7, 100];
const ade1mm = [5e-9, 1e-9, 4e-10, 4e-10];
const ade025mm = [7.5e-10, 1.5e-10, 6e-11, 6e-11];

const st1Names = ['BS_ST1_CPSINF_H1_I', 'BS_ST1_CPSINF_H2_I', 'BS_ST1_CPSINF_H3_I', 'BS_ST1_CPSINF_V1_I', 'BS_ST1_CPSINF_V2_I', 'BS_ST1_CPSINF_V3_I'];
const st2Names = ['BS_ST2_CPSINF_H1_I', 'BS_ST2_CPSINF_H2_I', 'BS_ST2_CPSINF_H3_I', 'BS_ST2_CPSINF_V1_I', 'BS_ST2_CPSINF_V2_I', 'BS_ST2_CPSINF_V3_I'];

// ---------- STYLE ----------
const colors = ['#1f77b4', '#ff7f0e', '#2ca02c', '#d62728', '#9467bd', '#8c564b'];
const adeColor = '#e377c2';
const FONT = 'DejaVu Sans, Liberation Sans, sans-serif';
const LW = 4.2;

const freq = freqA1.concat(freqA2, freqB);
function toAmp(a1, a2, b) {
  if (a1.length !== freqA1.length || a2.length !== freqA2.length || b.length !== freqB.length)
    throw new Error('length mismatch ' + a1.length + '/' + a2.length + '/' + b.length);
  return a1.concat(a2, b).map(v => Math.pow(10, v));
}

const traces = [];
const st1 = [[st1_H1_a1, st1_H1_a2, st1_H1_b], [st1_H2_a1, st1_H2_a2, st1_H2_b], [st1_H3_a1, st1_H3_a2, st1_H3_b],
             [st1_V1_a1, st1_V1_a2, st1_V1_b], [st1_V2_a1, st1_V2_a2, st1_V2_b], [st1_V3_a1, st1_V3_a2, st1_V3_b]];
const st2 = [[st2_H1_a1, st2_H1_a2, st2_H1_b], [st2_H2_a1, st2_H2_a2, st2_H2_b], [st2_H3_a1, st2_H3_a2, st2_H3_b],
             [st2_V1_a1, st2_V1_a2, st2_V1_b], [st2_V2_a1, st2_V2_a2, st2_V2_b], [st2_V3_a1, st2_V3_a2, st2_V3_b]];
st1.forEach((s, i) => {
  traces.push({x: freq, y: toAmp(s[0], s[1], s[2]), name: st1Names[i], type: 'scatter', mode: 'lines',
    line: {color: colors[i], width: LW}, xaxis: 'x', yaxis: 'y', legend: 'legend', legendgroup: 'a' + i});
});
traces.push({x: adeFreq, y: ade1mm, name: 'ADE 1mm noise', type: 'scatter', mode: 'lines',
  line: {color: adeColor, width: LW}, xaxis: 'x', yaxis: 'y', legend: 'legend', legendgroup: 'a6'});
st2.forEach((s, i) => {
  traces.push({x: freq, y: toAmp(s[0], s[1], s[2]), name: st2Names[i], type: 'scatter', mode: 'lines',
    line: {color: colors[i], width: LW}, xaxis: 'x2', yaxis: 'y2', legend: 'legend2', legendgroup: 'b' + i});
});
traces.push({x: adeFreq, y: ade025mm, name: 'ADE .25mm noise', type: 'scatter', mode: 'lines',
  line: {color: adeColor, width: LW}, xaxis: 'x2', yaxis: 'y2', legend: 'legend2', legendgroup: 'b6'});

// decade ticks (labelled with superscript glyphs) and digit ticks (minor grid)
const SUP = {'-': '\u207B', '0': '\u2070', '1': '\u00B9', '2': '\u00B2', '3': '\u00B3', '4': '\u2074',
             '5': '\u2075', '6': '\u2076', '7': '\u2077', '8': '\u2078', '9': '\u2079'};
function decadeTicks(eMin, eMax) {
  const vals = [], text = [];
  for (let e = eMin; e <= eMax; e++) {
    vals.push(Math.pow(10, e));
    text.push('10' + String(e).split('').map(c => SUP[c]).join(''));
  }
  return {vals, text};
}
function digitTicks(eMin, eMax) {
  const vals = [];
  for (let e = eMin; e <= eMax; e++) for (let d = 2; d <= 9; d++) vals.push(d * Math.pow(10, e));
  return vals;
}

function axis(eMin, eMax, extra) {
  const dt = decadeTicks(eMin, eMax);
  return Object.assign({
    type: 'log', showline: true, mirror: true, linecolor: '#000', linewidth: 1.1,
    ticks: 'outside', ticklen: 5, tickwidth: 1, tickcolor: '#000',
    showgrid: true, gridcolor: '#b0b0b0', gridwidth: 1.1, zeroline: false,
    tickmode: 'array', tickvals: dt.vals, ticktext: dt.text,
    tickfont: {family: FONT, size: 16, color: '#000'},
    minor: {tickmode: 'array', tickvals: digitTicks(eMin, eMax), ticks: 'outside', ticklen: 3, tickwidth: 1,
      tickcolor: '#000', showgrid: true, gridcolor: '#b0b0b0', gridwidth: 1.1}
  }, extra);
}

const legendBase = {
  xanchor: 'right', yanchor: 'top', x: 0.8946,
  bgcolor: 'rgba(255,255,255,0.8)', bordercolor: '#cccccc', borderwidth: 1,
  font: {family: FONT, size: 27.5, color: '#000'}, tracegroupgap: 4, itemwidth: 75
};

const layout = {
  width: 2400, height: 1600,
  margin: {l: 0, r: 0, t: 0, b: 0, pad: 0},
  paper_bgcolor: '#fff', plot_bgcolor: '#fff',
  font: {family: FONT, color: '#000'},
  showlegend: true,
  title: {text: 'CPS Spectra<br>1248512400 to 1248513000', font: {family: FONT, size: 33, color: '#000'},
    x: 0.5, xanchor: 'center', xref: 'paper', y: 0.9636, yanchor: 'top', yref: 'container'},
  xaxis: axis(-2, 2, {domain: [0.125, 0.9], anchor: 'y', range: [-2, Math.log10(200)]}),
  yaxis: axis(-11, -7, {domain: [0.53, 0.88], anchor: 'x', range: [-10.242, -6.847]}),
  xaxis2: axis(-2, 2, {domain: [0.125, 0.9], anchor: 'y2', range: [-2, Math.log10(200)]}),
  yaxis2: axis(-12, -8, {domain: [0.11, 0.46], anchor: 'x2', range: [-11.467, -7.246]}),
  legend: Object.assign({}, legendBase, {y: 0.8743}),
  legend2: Object.assign({}, legendBase, {y: 0.4536}),
  annotations: [
    {text: 'BS_ST1', xref: 'paper', yref: 'paper', x: 0.5125, y: 0.8794, xanchor: 'center', yanchor: 'bottom', showarrow: false, font: {family: FONT, size: 27.5}},
    {text: 'BS_ST2', xref: 'paper', yref: 'paper', x: 0.5125, y: 0.4594, xanchor: 'center', yanchor: 'bottom', showarrow: false, font: {family: FONT, size: 27.5}},
    {text: 'Freq (hz)', xref: 'paper', yref: 'paper', x: 0.5125, y: 0.5025, xanchor: 'center', yanchor: 'middle', showarrow: false, font: {family: FONT, size: 25}},
    {text: 'Freq (hz)', xref: 'paper', yref: 'paper', x: 0.5125, y: 0.0825, xanchor: 'center', yanchor: 'middle', showarrow: false, font: {family: FONT, size: 25}},
    {text: 'm/rthz', xref: 'paper', yref: 'paper', x: 0.0979, y: 0.705, xanchor: 'center', yanchor: 'middle', textangle: -90, showarrow: false, font: {family: FONT, size: 25}},
    {text: 'm/rthz', xref: 'paper', yref: 'paper', x: 0.0979, y: 0.285, xanchor: 'center', yanchor: 'middle', textangle: -90, showarrow: false, font: {family: FONT, size: 25}},
    {text: '/opt/rtcds/userapps/trunk/sys/h1/scripts/BSC_cps_spectra.py', xref: 'paper', yref: 'paper', x: 0.9533, y: 0.45, xanchor: 'center', yanchor: 'middle', textangle: -90, showarrow: false, font: {family: FONT, size: 16.5}},
    {text: 'calibration only >10hz', xref: 'paper', yref: 'paper', x: 0.509, y: 0.05375, xanchor: 'center', yanchor: 'middle', showarrow: false, font: {family: FONT, size: 16.5}}
  ]
};

Plotly.newPlot('chart', traces, layout, {staticPlot: true, displayModeBar: false});
</script>
</body>
</html>
